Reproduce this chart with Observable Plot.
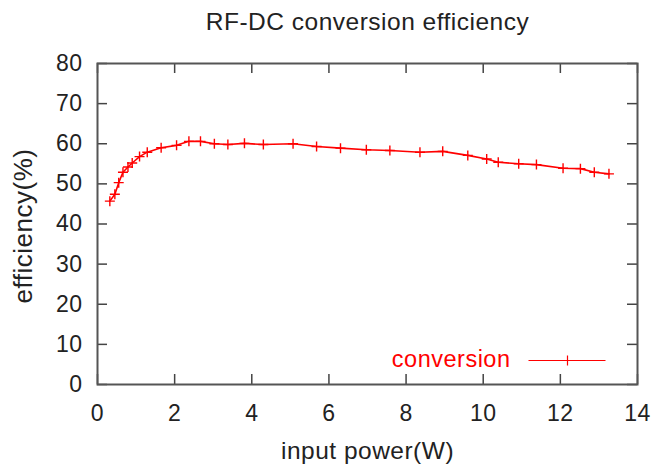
<!DOCTYPE html>
<html>
<head>
<meta charset="utf-8">
<script src="https://cdn.jsdelivr.net/npm/d3@7"></script>
<script src="https://cdn.jsdelivr.net/npm/@observablehq/plot@0.6"></script>
<style>
  html, body { margin: 0; padding: 0; background: #fff; }
  #chart svg { display: block; }
  #chart svg text { letter-spacing: 0.5px; }
</style>
</head>
<body>
<div id="chart"></div>
<script>
const titleText = "RF-DC conversion efficiency";
const xLabel = "input power(W)";
const yLabel = "efficiency(%)";
const seriesName = "conversion";

const inputPower = [0.32, 0.45, 0.55, 0.66, 0.79, 0.90, 1.09, 1.29, 1.65, 2.05, 2.37, 2.67, 3.03, 3.38, 3.81, 4.30,
  5.07, 5.68, 6.30, 6.97, 7.58, 8.36, 8.95, 9.60, 10.09, 10.39, 10.92, 11.38, 12.07, 12.52, 12.88, 13.26];
const efficiency = [45.7, 47.4, 50.3, 52.9, 54.2, 55.2, 56.8, 57.9, 59.0, 59.6, 60.6, 60.6, 60.0, 59.8, 60.1, 59.8,
  60.0, 59.3, 58.9, 58.5, 58.3, 57.9, 58.1, 57.1, 56.2, 55.4, 55.0, 54.8, 53.9, 53.8, 52.9, 52.5];

const xTicks = [0, 2, 4, 6, 8, 10, 12, 14];
const yTicks = [0, 10, 20, 30, 40, 50, 60, 70, 80];

const data = inputPower.map((x, i) => ({x, y: efficiency[i]}));

const W = 654, H = 465;
const mL = 97, mR = 17, mT = 63, mB = 81;
const innerW = W - mL - mR, innerH = H - mT - mB;
const tickLen = 10;
const red = "#ff0000";
const axisColor = "#444";
const textColor = "#222";
const font = "Liberation Sans, Arial, sans-serif";

const plusSymbol = {
  draw(ctx) { const r = 5; ctx.moveTo(-r, 0); ctx.lineTo(r, 0); ctx.moveTo(0, -r); ctx.lineTo(0, r); }
};
const legendLine = {
  draw(ctx) { ctx.moveTo(-38.5, 0); ctx.lineTo(38.5, 0); }
};

const chart = Plot.plot({
  width: W, height: H,
  marginLeft: mL, marginRight: mR, marginTop: mT, marginBottom: mB,
  style: {fontFamily: font, background: "#fff"},
  x: {domain: [0, 14]},
  y: {domain: [0, 80]},
  marks: [
    // inward ticks on all four sides
    Plot.tickY(yTicks, {y: d => d, stroke: axisColor, strokeWidth: 1.5, insetRight: innerW - tickLen}),
    Plot.tickY(yTicks, {y: d => d, stroke: axisColor, strokeWidth: 1.5, insetLeft: innerW - tickLen}),
    Plot.tickX(xTicks, {x: d => d, stroke: axisColor, strokeWidth: 1.5, insetTop: innerH - tickLen}),
    Plot.tickX(xTicks, {x: d => d, stroke: axisColor, strokeWidth: 1.5, insetBottom: innerH - tickLen}),
    Plot.frame({stroke: "#555", strokeWidth: 2}),
    Plot.axisY({ticks: yTicks, tickSize: 0, tickPadding: 15, fontSize: 23, fill: textColor, label: null}),
    Plot.axisX({ticks: xTicks, tickSize: 0, tickPadding: 20, fontSize: 23, fill: textColor, label: null}),
    Plot.line(data, {x: "x", y: "y", stroke: red, strokeWidth: 1.6}),
    Plot.dot(data, {x: "x", y: "y", symbol: plusSymbol, stroke: red, fill: "none", strokeWidth: 1.4}),
    // title and axis labels
    Plot.text([titleText], {text: d => d, frameAnchor: "top", lineAnchor: "middle", dy: -41, fontSize: 24.5, fill: textColor}),
    Plot.text([xLabel], {text: d => d, frameAnchor: "bottom", lineAnchor: "middle", dy: 67, fontSize: 24.5, fill: textColor}),
    Plot.text([yLabel], {text: d => d, frameAnchor: "left", textAnchor: "middle", lineAnchor: "middle", rotate: -90, dx: -74, dy: 2, fontSize: 26, fill: textColor}),
    // legend
    Plot.text([seriesName], {text: d => d, frameAnchor: "bottom-right", textAnchor: "end", lineAnchor: "middle", dx: -127, dy: -24.7, fontSize: 23.5, fill: red}),
    Plot.dot([seriesName], {frameAnchor: "bottom-right", dx: -70.5, dy: -24, symbol: legendLine, stroke: red, fill: "none", strokeWidth: 1.2}),
    Plot.dot([seriesName], {frameAnchor: "bottom-right", dx: -70, dy: -24, symbol: plusSymbol, stroke: red, fill: "none", strokeWidth: 1.2})
  ]
});
document.getElementById("chart").appendChild(chart);
</script>
</body>
</html>
